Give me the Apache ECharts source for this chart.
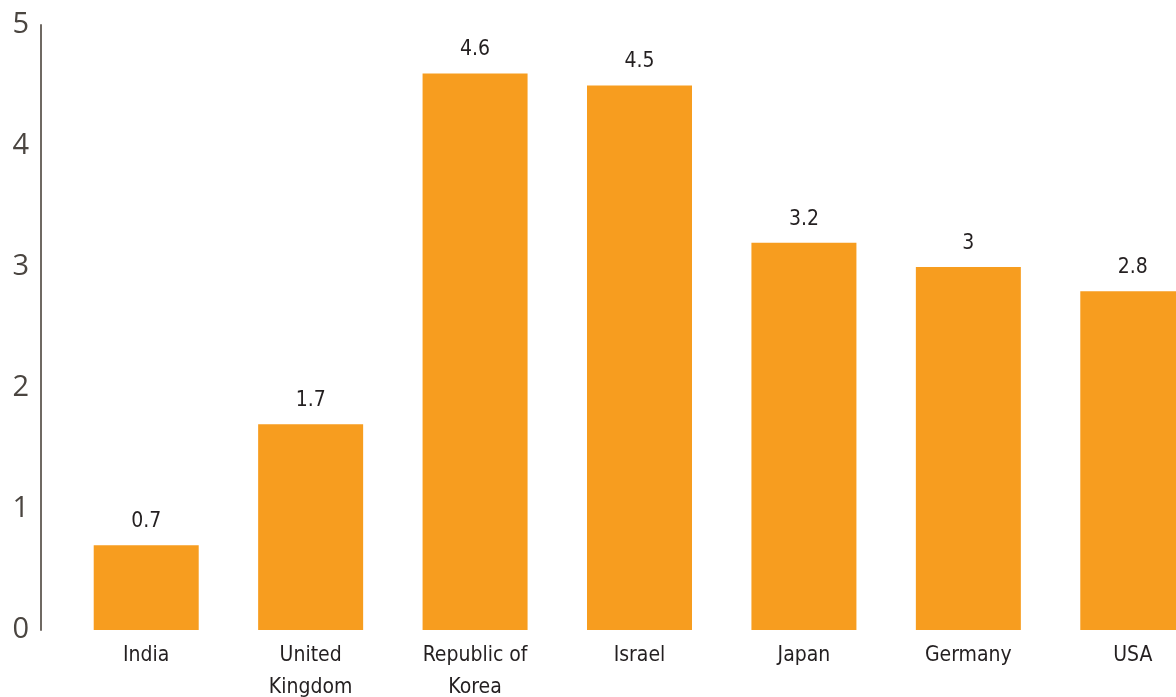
<!DOCTYPE html>
<html>
<head>
<meta charset="utf-8">
<script src="https://cdn.jsdelivr.net/npm/echarts@6/dist/echarts.min.js"></script>
<style>
  html, body { margin: 0; padding: 0; background: #fff; }
  #main { width: 1176px; height: 697px; }
</style>
</head>
<body>
<div id="main"></div>
<script>
// countries and values
var countries = ['India', 'United\nKingdom', 'Republic of\nKorea', 'Israel', 'Japan', 'Germany', 'USA'];
var values = [0.7, 1.7, 4.6, 4.5, 3.2, 3, 2.8];
var yTicks = [0, 1, 2, 3, 4, 5];

var labelFont = '"DejaVu Sans Condensed", "Liberation Sans Narrow", sans-serif';

var myChart = echarts.init(document.getElementById('main'));
var option = {
  animation: false,
  // the last bar runs off the right edge, so the grid is wider than the page
  grid: { left: 64, right: -39, top: 25, bottom: 67, outerBoundsMode: 'none', containLabel: false },
  xAxis: {
    type: 'category',
    data: countries,
    axisLine: { show: false },
    axisTick: { show: false },
    axisLabel: {
      color: '#231f20',
      fontFamily: labelFont,
      fontSize: 21,
      lineHeight: 32,
      margin: 10,
      interval: 0,
      verticalAlign: 'top'
    }
  },
  yAxis: {
    type: 'value',
    min: yTicks[0],
    max: yTicks[yTicks.length - 1],
    interval: 1,
    offset: 23,
    splitLine: { show: false },
    axisTick: { show: false },
    axisLine: { show: true, lineStyle: { color: '#6f6963', width: 2 } },
    axisLabel: {
      color: '#4a4540',
      fontFamily: '"Open Sans", "Noto Sans", sans-serif',
      fontWeight: 'normal',
      fontSize: 29,
      margin: 12
    }
  },
  series: [
    {
      type: 'bar',
      data: values,
      barWidth: 105,
      itemStyle: { color: '#F79D1F' },
      label: {
        show: true,
        position: 'top',
        distance: 13,
        color: '#231f20',
        fontFamily: labelFont,
        fontSize: 21
      }
    }
  ]
};
myChart.setOption(option);
</script>
</body>
</html>
